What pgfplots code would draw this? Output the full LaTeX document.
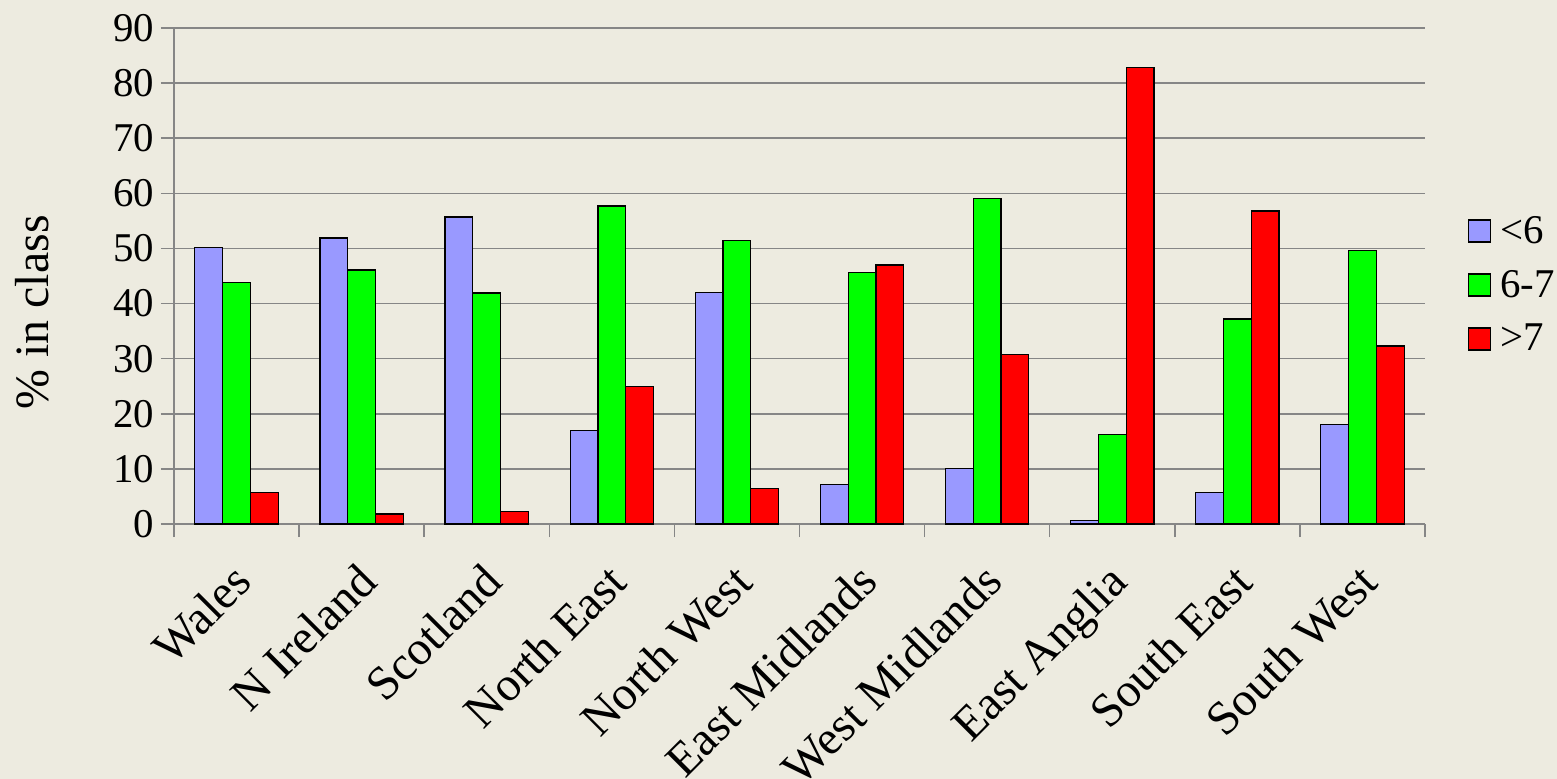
\documentclass[border=0pt]{standalone}
\usepackage{pgfplots}
\pgfplotsset{compat=1.18}
\usepackage{fontspec}
\setmainfont{Liberation Serif}

\definecolor{chartbg}{RGB}{237,235,224}
\definecolor{gridgray}{RGB}{134,134,134}
\definecolor{lowblue}{RGB}{153,153,255}
\definecolor{midgreen}{RGB}{0,255,0}
\definecolor{highred}{RGB}{255,0,0}

% share of classes by band, per region (x = 0..9)
\pgfplotstableread{
x  low   mid   high
0  50.2  43.8  5.7
1  51.9  46.1  1.8
2  55.7  41.9  2.2
3  17.0  57.7  25.0
4  42.0  51.4  6.4
5  7.1   45.6  47.0
6  10.0  59.0  30.8
7  0.7   16.2  82.8
8  5.7   37.2  56.8
9  18.0  49.6  32.3
}\regiondata

\begin{document}
\begin{tikzpicture}
\fill[chartbg] (-87bp,-127.5bp) rectangle (691.5bp,262bp);
\begin{axis}[
  at={(0,0)}, anchor=south west,
  scale only axis,
  width=625.5bp, height=248bp,
  font=\fontsize{20.5}{24}\selectfont,
  /pgf/number format/assume math mode=true,
  ybar=0pt, bar width=13.9bp,
  xmin=-0.5, xmax=9.5,
  ymin=0, ymax=90,
  ytick={0,10,...,90},
  xtick={-0.5,0.5,...,9.5},
  x tick label as interval,
  xticklabels={Wales,N Ireland,Scotland,North East,North West,East Midlands,West Midlands,East Anglia,South East,South West},
  xticklabel style={xshift=-3bp, yshift=-9bp, rotate=45, anchor=north east,
    inner sep=2bp, font=\fontsize{24}{28}\selectfont},
  axis x line*=bottom, axis y line*=left,
  axis line style={-, draw=gridgray, line width=0.75bp},
  tick align=outside,
  major tick length=6.5bp,
  tick style={draw=gridgray, line width=0.75bp},
  ymajorgrids,
  major grid style={draw=gridgray, line width=0.75bp},
  every axis y label/.style={at={(axis description cs:-0.113,0.427)}, rotate=90, anchor=center},
  ylabel={\fontsize{24}{28}\selectfont\% in class},
  legend style={draw=none, fill=none, at={(1.029,0.482)}, anchor=west,
    row sep=8bp, font=\fontsize{20.5}{24}\selectfont},
  legend cell align=left,
  legend image code/.code={%
    \draw[#1, draw=black, line width=0.6bp] (0bp,-5.5bp) rectangle (11bp,5.5bp);
    \path[draw=none, fill=none] (0bp,0bp) -- (14bp,0bp);},
  every axis plot/.append style={draw=black, line width=0.6bp},
]
\addplot[fill=lowblue] table[x=x, y=low] {\regiondata};
\addplot[fill=midgreen] table[x=x, y=mid] {\regiondata};
\addplot[fill=highred] table[x=x, y=high] {\regiondata};
\legend{<6, 6-7, >7}
\end{axis}
\pgfresetboundingbox
\useasboundingbox (-87bp,-127.5bp) rectangle (691.5bp,262bp);
\end{tikzpicture}
\end{document}
